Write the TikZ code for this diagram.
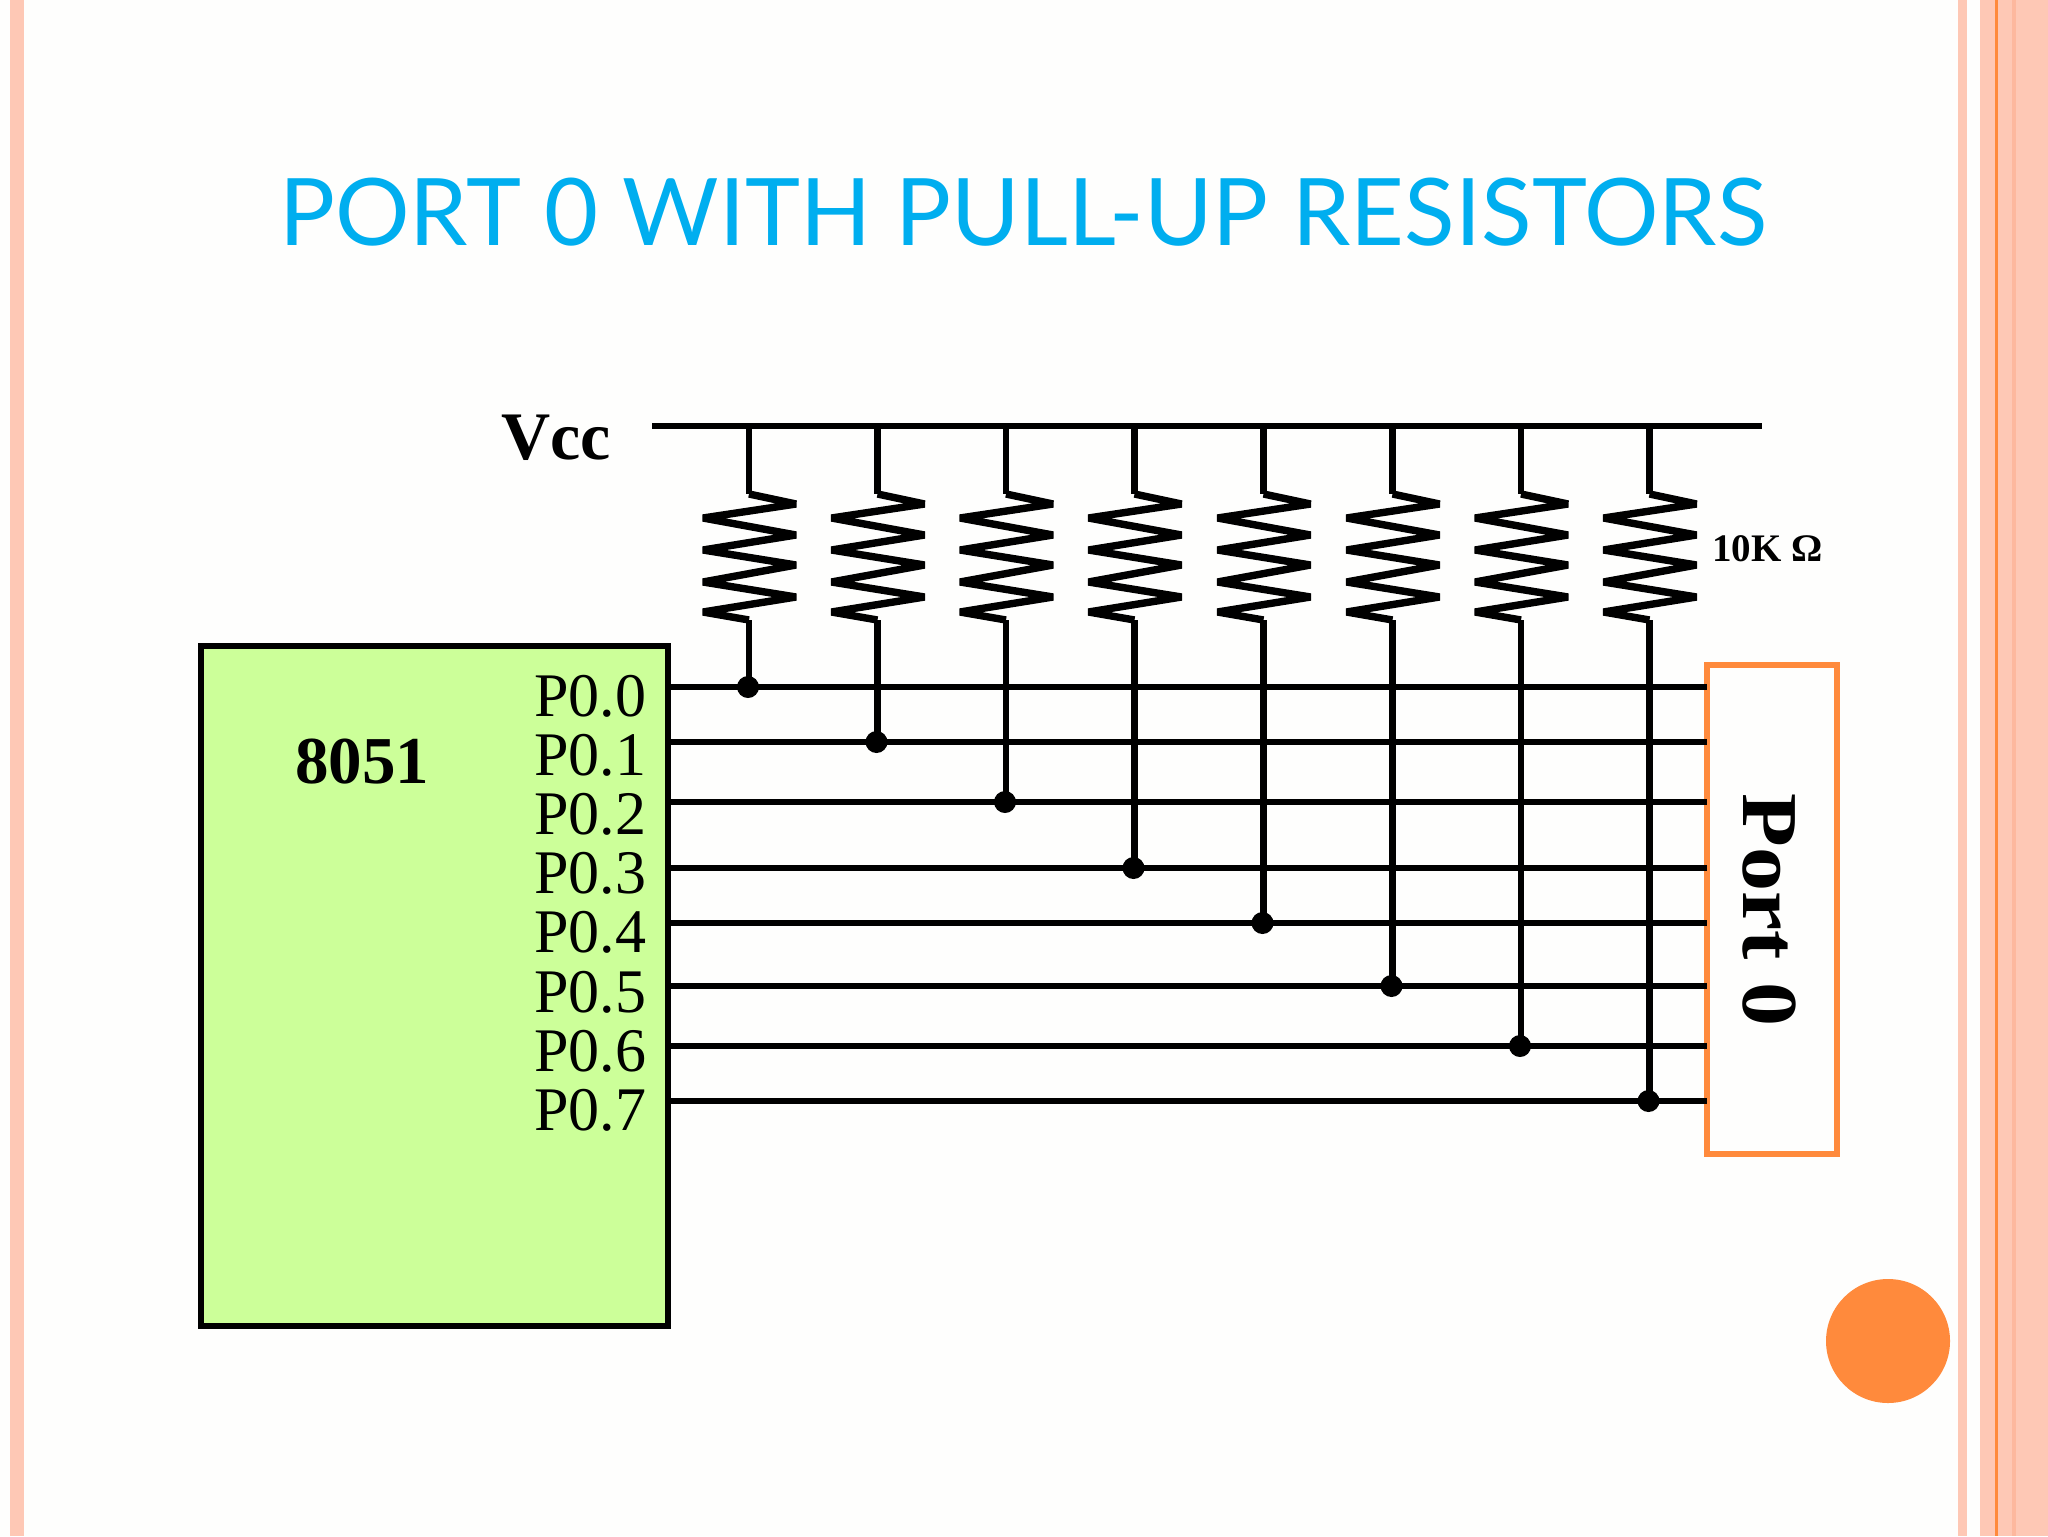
\documentclass[tikz,border=0pt]{standalone}
\usepackage{graphicx}
\usepackage{fontspec}
\setmainfont{Liberation Serif}
\newfontfamily\titlefont{Lato}
\definecolor{paper}{HTML}{FEFEFD}
\definecolor{stripe}{HTML}{FEC8B5}
\definecolor{stripedark}{HTML}{FDB89E}
\definecolor{accent}{HTML}{FF8A3C}
\definecolor{chipgreen}{HTML}{CCFF99}
\definecolor{titleblue}{HTML}{00AEEF}
\tikzset{
  x=0.5pt,y=-0.5pt,
  wire/.style={draw=black,line width=3.3pt},
  zig/.style={draw=black,line width=3.7pt,miter limit=3},
  junction/.style={circle,fill=black,inner sep=0pt,minimum size=11pt},
  portlabel/.style={anchor=base west,inner sep=0pt,font=\fontsize{31}{31}\selectfont},
}
\begin{document}
\begin{tikzpicture}
\useasboundingbox (0,0) rectangle (2048,1536);
\fill[paper] (0,0) rectangle (2048,1536);
% slide decoration
\fill[stripe] (10,0) rectangle (24,1536);
\fill[stripe] (1958,0) rectangle (1967,1536);
\fill[stripe] (1980,0) rectangle (2048,1536);
\fill[accent] (1995,0) rectangle (1997.5,1536);
\fill[stripedark] (2012,0) rectangle (2016,1536);
\fill[accent] (1888,1341) circle[radius=62];
% title
\node[anchor=base,inner sep=0pt,text=titleblue,font=\titlefont\fontsize{46.6}{47}\selectfont] (title) at (1023,245) {PORT 0 WITH PULL-UP RESISTORS};
% boxes
\path[draw=black,fill=chipgreen,line width=3.2pt] (201,646) rectangle (668,1326);
\coordinate (chipE) at (668,646);
\path[draw=accent,fill=paper,line width=3.2pt] (1707,665) rectangle (1837,1154);
\coordinate (portW) at (1707,665);
% labels
\node[anchor=base west,inner sep=0pt,font=\bfseries\fontsize{34}{34}\selectfont] (vcc) at (501,459) {Vcc};
\node[anchor=base west,inner sep=0pt,font=\bfseries\fontsize{33.5}{34}\selectfont] (chipname) at (295,783) {8051};
\node[anchor=base west,inner sep=0pt,font=\bfseries\fontsize{19.5}{19.5}\selectfont] (rval) at (1712,561) {10K Ω};
\node[rotate=-90,inner sep=0pt,font=\bfseries\fontsize{44}{44}\selectfont] (portname) at (1769,910) {\scalebox{1}[0.9]{Port 0}};
% Vcc bus
\coordinate (busL) at (652,426);
\coordinate (busR) at (1762,426);
\draw[wire] (busL) -- (busR);
% port lines, resistors and junctions
\foreach \i/\x/\y/\by in {0/749/687/716,1/877.5/742/775,2/1006/802/834,3/1134.5/868/893,4/1263.5/923/952,5/1392.5/986/1012,6/1521/1046/1071,7/1649.5/1101/1130}{
  \node[portlabel] (p\i) at (534,\by) {P0.\i};
  \coordinate (wl\i) at (chipE |- 0,\y);
  \coordinate (wr\i) at (portW |- 0,\y);
  \draw[wire] (wl\i) -- (wr\i);
  \coordinate (top\i) at (\x,426);
  \coordinate (rt\i) at (\x,494);
  \coordinate (rb\i) at (\x,620);
  \coordinate (jn\i) at (\x,\y);
  \draw[wire] (top\i) -- (rt\i);
  \draw[zig] (rt\i) -- ++(47,10) -- ++(-93,14) -- ++(93,17) -- ++(-93,15) -- ++(93,15) -- ++(-93,17) -- ++(93,15) -- ++(-93,15) -- (rb\i);
  \draw[wire] (rb\i) -- (jn\i);
  \node[junction,xshift=-0.5pt] (dot\i) at (jn\i) {};
}
\end{tikzpicture}
\end{document}
